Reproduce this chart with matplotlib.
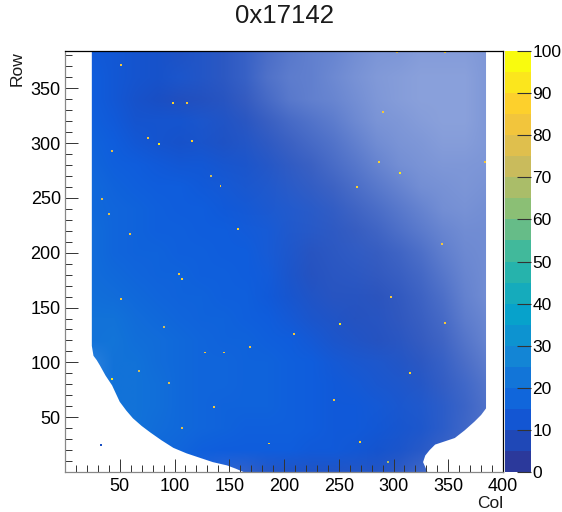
import numpy as np
import matplotlib
matplotlib.use("Agg")
import matplotlib.pyplot as plt
from matplotlib.colors import LinearSegmentedColormap, BoundaryNorm, Normalize
from matplotlib.cm import ScalarMappable
from matplotlib.patches import Polygon
from matplotlib.ticker import MultipleLocator

plt.rcParams['font.family'] = ['Liberation Sans', 'DejaVu Sans']

title = "0x17142"
x_label = "Col"
y_label = "Row"
x_ticks = [50, 100, 150, 200, 250, 300, 350, 400]
y_ticks = [50, 100, 150, 200, 250, 300, 350]
z_ticks = [0, 10, 20, 30, 40, 50, 60, 70, 80, 90, 100]
bird = ["#2B399B", "#0F5CDD", "#1481D6", "#06A4CA", "#2EB7A4",
        "#87BF77", "#D1BB59", "#FEC832", "#F9FB0E"]

grid_cols = [25, 45, 65, 85, 105, 125, 145, 165, 185, 205, 225, 245, 265, 285, 305, 325, 345, 365, 385]
grid_rows = [380, 360, 340, 320, 300, 280, 260, 240, 220, 200, 180, 160, 140, 120, 100, 80, 60, 40, 20, 0]

# mean count of the filled pixels in each region
mean_level = [
    [12, 11, 10, 9, 8, 8, 7, 7, 6, 6, 6, 6, 6, 6, 6, 6, 6, 6, 6],
    [13, 11, 10, 9, 9, 8, 7, 7, 6, 6, 6, 6, 6, 6, 6, 6, 6, 6, 6],
    [13, 11, 9, 8, 7, 7, 7, 6, 6, 6, 6, 6, 6, 6, 6, 6, 6, 6, 6],
    [14, 12, 10, 10, 10, 9, 8, 7, 6, 6, 6, 6, 6, 6, 6, 6, 6, 6, 6],
    [15, 13, 11, 10, 9, 9, 8, 8, 7, 6, 6, 6, 6, 6, 6, 6, 6, 6, 6],
    [16, 14, 13, 12, 11, 11, 10, 9, 8, 7, 6, 6, 6, 6, 6, 6, 6, 6, 6],
    [17, 15, 14, 13, 13, 12, 11, 10, 9, 8, 7, 6, 6, 6, 6, 6, 6, 6, 6],
    [17, 16, 15, 14, 13, 13, 12, 11, 10, 9, 8, 7, 6, 6, 6, 6, 6, 6, 6],
    [18, 16, 15, 14, 14, 13, 13, 12, 11, 9, 8, 7, 6, 6, 6, 6, 6, 6, 6],
    [18, 16, 15, 15, 14, 14, 13, 13, 11, 9, 7, 7, 7, 6, 6, 6, 6, 6, 6],
    [18, 17, 16, 15, 15, 14, 14, 13, 12, 9, 7, 7, 7, 6, 6, 6, 6, 6, 6],
    [19, 18, 17, 16, 15, 15, 14, 14, 12, 10, 8, 7, 7, 6, 6, 6, 6, 6, 6],
    [20, 20, 18, 17, 16, 15, 15, 14, 13, 11, 9, 8, 7, 7, 6, 6, 6, 6, 6],
    [20, 21, 19, 18, 17, 16, 15, 15, 14, 13, 11, 9, 8, 7, 7, 6, 6, 6, 6],
    [20, 20, 20, 18, 17, 16, 16, 15, 15, 14, 13, 11, 10, 9, 8, 7, 7, 6, 6],
    [18, 20, 20, 19, 17, 16, 16, 15, 15, 14, 13, 12, 11, 10, 9, 8, 7, 7, 6],
    [18, 20, 20, 19, 17, 16, 15, 15, 15, 14, 13, 12, 12, 11, 10, 9, 8, 7, 6],
    [18, 20, 20, 18, 17, 16, 15, 14, 14, 14, 13, 12, 12, 11, 10, 9, 8, 7, 6],
    [18, 20, 20, 17, 16, 14, 13, 13, 13, 13, 12, 12, 11, 10, 9, 8, 7, 6, 6],
    [18, 20, 20, 17, 14, 12, 10, 8, 8, 8, 8, 8, 8, 8, 7, 7, 6, 6, 6],
]

# fraction of pixels that are filled in each region
fill_part = [
    [1.0, 1.0, 1.0, 1.0, .98, .96, .93, .88, .80, .74, .70, .67, .62, .58, .57, .54, .54, .54, .57],
    [1.0, 1.0, 1.0, 1.0, .98, .96, .93, .88, .78, .72, .70, .65, .60, .56, .54, .52, .52, .52, .57],
    [1.0, 1.0, 1.0, 1.0, .98, .97, .95, .90, .82, .74, .70, .67, .62, .57, .54, .52, .52, .52, .57],
    [1.0, 1.0, 1.0, 1.0, 1.0, .98, .97, .94, .88, .82, .77, .72, .65, .59, .57, .54, .52, .52, .57],
    [1.0, 1.0, 1.0, 1.0, 1.0, .99, .98, .96, .92, .87, .82, .77, .70, .63, .59, .57, .54, .54, .57],
    [1.0, 1.0, 1.0, 1.0, 1.0, 1.0, .99, .98, .95, .91, .87, .81, .75, .68, .62, .59, .57, .57, .58],
    [1.0, 1.0, 1.0, 1.0, 1.0, 1.0, .99, .98, .96, .93, .90, .86, .80, .74, .68, .62, .60, .58, .60],
    [1.0, 1.0, 1.0, 1.0, 1.0, 1.0, 1.0, .99, .97, .95, .93, .90, .85, .80, .74, .68, .62, .60, .62],
    [1.0, 1.0, 1.0, 1.0, 1.0, 1.0, 1.0, .99, .98, .96, .94, .92, .89, .85, .79, .73, .67, .63, .63],
    [1.0, 1.0, 1.0, 1.0, 1.0, 1.0, 1.0, 1.0, .98, .97, .95, .93, .91, .89, .85, .79, .71, .65, .63],
    [1.0, 1.0, 1.0, 1.0, 1.0, 1.0, 1.0, 1.0, .99, .98, .96, .94, .93, .91, .88, .83, .75, .67, .63],
    [1.0, 1.0, 1.0, 1.0, 1.0, 1.0, 1.0, 1.0, 1.0, .99, .97, .95, .95, .94, .91, .86, .79, .69, .63],
    [1.0, 1.0, 1.0, 1.0, 1.0, 1.0, 1.0, 1.0, 1.0, .99, .98, .97, .96, .95, .92, .88, .82, .72, .66],
    [1.0, 1.0, 1.0, 1.0, 1.0, 1.0, 1.0, 1.0, 1.0, 1.0, .99, .98, .97, .96, .94, .90, .85, .76, .68],
    [.90, 1.0, 1.0, 1.0, 1.0, 1.0, 1.0, 1.0, 1.0, 1.0, 1.0, .99, .98, .97, .96, .93, .88, .80, .72],
    [.90, 1.0, 1.0, 1.0, 1.0, 1.0, 1.0, 1.0, 1.0, 1.0, 1.0, 1.0, .99, .98, .97, .95, .90, .84, .76],
    [.90, 1.0, 1.0, 1.0, 1.0, 1.0, 1.0, 1.0, 1.0, 1.0, 1.0, 1.0, 1.0, .99, .98, .96, .92, .86, .78],
    [.90, 1.0, 1.0, 1.0, 1.0, 1.0, 1.0, 1.0, 1.0, 1.0, 1.0, 1.0, 1.0, 1.0, .99, .97, .92, .85, .78],
    [.90, 1.0, 1.0, 1.0, 1.0, 1.0, 1.0, 1.0, 1.0, 1.0, 1.0, 1.0, 1.0, 1.0, .98, .94, .88, .82, .78],
    [.90, 1.0, 1.0, 1.0, 1.0, .95, .90, .90, .95, .97, .97, .97, .96, .96, .92, .85, .80, .78, .78],
]

# outline of the filled region
edge_cols = [24.5, 24.5, 26, 29, 32, 37, 43, 50, 56, 62, 70, 78, 88, 99, 111, 123, 135, 148, 156, 163,
             331, 327, 329, 333, 338, 347, 356, 365, 374, 380, 384.5, 384.5]
edge_rows = [384, 115, 106, 102, 97, 88, 79, 64, 56, 49, 42, 36, 29, 22, 17, 13, 9, 6, 3, 0,
             0, 9, 15, 20, 25, 28, 31, 38, 46, 52, 58, 384]

# isolated hot pixels
hot_cols = [51, 90, 43, 68, 95, 107, 104, 136, 107, 145, 128, 186, 169, 51, 40, 76, 86, 43, 34,
            116, 133, 142, 158, 59, 99, 111, 251, 298, 209, 246, 269, 295, 315, 347, 287, 306,
            267, 344, 290, 347, 303, 384, 33]
hot_rows = [158, 132, 85, 92, 81, 176, 181, 59, 40, 109, 109, 26, 114, 371, 235, 305, 299, 293, 249,
            302, 270, 261, 222, 217, 337, 337, 135, 160, 126, 66, 27, 9, 90, 136, 283, 273,
            260, 208, 328, 383, 383, 283, 25]
hot_vals = [85, 75, 95, 75, 80, 90, 85, 85, 80, 85, 85, 90, 85, 85, 80, 85, 95, 80, 80,
            90, 75, 85, 90, 85, 90, 85, 95, 85, 85, 85, 90, 70, 90, 85, 90, 95,
            90, 85, 85, 90, 80, 85, 8]

fig = plt.figure(figsize=(5.62, 5.12), dpi=100)
W, H = 562, 512
ax = fig.add_axes([65 / W, 1 - 472 / H, 438 / W, 421 / H])
cax = fig.add_axes([505 / W, 1 - 472 / H, 26 / W, 421 / H])

smooth = LinearSegmentedColormap.from_list("bird", bird, N=256)
stepped = LinearSegmentedColormap.from_list("bird20", bird, N=20)
z_norm = Normalize(0, 100)

level = np.array(mean_level, float)
fill = np.array(fill_part, float)[..., None]
rgb = smooth(z_norm(level))[..., :3]
rgb = rgb * fill + (1 - fill)

half = (grid_cols[1] - grid_cols[0]) / 2
img = ax.imshow(rgb, extent=(grid_cols[0] - half, grid_cols[-1] + half,
                             grid_rows[-1] - half, grid_rows[0] + half),
                interpolation="bilinear", aspect="auto", zorder=1)
outline = Polygon(np.column_stack([edge_cols, edge_rows]), closed=True, transform=ax.transData,
                  fc="none", ec="none")
ax.add_patch(outline)
img.set_clip_path(outline)

ax.scatter(hot_cols, hot_rows, c=hot_vals, cmap=smooth, norm=z_norm, s=2, marker="s",
           linewidths=0, zorder=2)

ax.set_xlim(0, 400)
ax.set_ylim(0, 384)
ax.set_xticks(x_ticks)
ax.set_yticks(y_ticks)
ax.xaxis.set_minor_locator(MultipleLocator(10))
ax.yaxis.set_minor_locator(MultipleLocator(10))
ax.tick_params(which="major", direction="in", length=9.5, width=0.7, labelsize=13, color="#333333", pad=3)
ax.tick_params(which="minor", direction="in", length=4.7, width=0.7, color="#333333")
ax.tick_params(axis="x", pad=4)
for s in ax.spines.values():
    s.set_linewidth(0.9)
    s.set_zorder(5)
ax.spines["left"].set_color("#888888")
ax.spines["bottom"].set_color("#888888")

bounds = np.arange(0, 101, 5)
cb = fig.colorbar(ScalarMappable(norm=BoundaryNorm(bounds, 20), cmap=stepped), cax=cax,
                  ticks=z_ticks, spacing="proportional", drawedges=False)
cb.outline.set_visible(False)
cb.ax.minorticks_off()
cb.ax.tick_params(direction="in", length=10, width=0.8, labelsize=12.5, color="#333333", pad=1)

fig.text(284 / W, 1 - 16 / H, title, ha="center", va="center", fontsize=18.5, color="#1a1a1a")
fig.text(17 / W, 1 - 51 / H, y_label, rotation=90, ha="center", va="top", fontsize=12.5, color="#1a1a1a")
fig.text(503 / W, 1 - 503 / H, x_label, ha="right", va="center", fontsize=12.5, color="#1a1a1a")

fig.savefig("out.png", dpi=100)
